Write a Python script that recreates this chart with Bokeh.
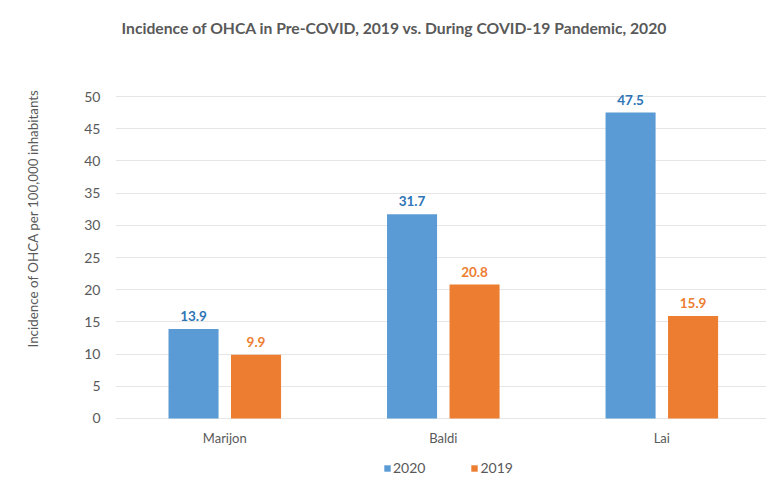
from bokeh.plotting import figure
from bokeh.models import (Range1d, FixedTicker, ColumnDataSource, Legend, LegendItem, Label, Title)
from bokeh.core.properties import value
from bokeh.embed import file_html
from bokeh.resources import INLINE

categories = ["Marijon", "Baldi", "Lai"]
series_2020 = [13.9, 31.7, 47.5]
series_2019 = [9.9, 20.8, 15.9]
y_ticks = [0, 5, 10, 15, 20, 25, 30, 35, 40, 45, 50]

FONT = "Lato"
GRAY = "#595959"
BLUE = "#5B9BD5"
ORANGE = "#ED7D31"

centers = [i + 0.5 for i in range(len(categories))]
off = 0.143
bw = 0.229

p = figure(width=766, height=482, output_backend="svg", toolbar_location=None,
           x_range=Range1d(0, 2.979), y_range=Range1d(-9.938, 64.907),
           x_axis_location=None,
           min_border_left=115, min_border_right=0, min_border_top=0, min_border_bottom=0)
p.outline_line_color = None
p.background_fill_color = "white"
p.border_fill_color = "white"

src20 = ColumnDataSource(dict(x=[c - off for c in centers], top=series_2020,
                              lab=[f"{v:.1f}" for v in series_2020]))
src19 = ColumnDataSource(dict(x=[c + off for c in centers], top=series_2019,
                              lab=[f"{v:.1f}" for v in series_2019]))
srccat = ColumnDataSource(dict(x=centers, y=[0] * len(centers), name=categories))

r20 = p.vbar(x="x", top="top", bottom=0, width=bw, source=src20, fill_color=BLUE, line_color=None)
r19 = p.vbar(x="x", top="top", bottom=0, width=bw, source=src19, fill_color=ORANGE, line_color=None)

p.text(x="x", y="top", text="lab", source=src20, text_align="center", text_baseline="bottom",
       y_offset=-8, text_font=value(FONT), text_font_style="bold", text_font_size="13.5px",
       text_color="#2E75B6")
p.text(x="x", y="top", text="lab", source=src19, text_align="center", text_baseline="bottom",
       y_offset=-8, text_font=value(FONT), text_font_style="bold", text_font_size="13.5px",
       text_color=ORANGE)

# category labels under the bars
p.text(x="x", y="y", text="name", source=srccat, text_align="center", text_baseline="middle",
       y_offset=20, text_font=value(FONT), text_font_size="13px", text_color=GRAY)

# chart title inside the frame
p.add_layout(Label(x=1.2769, y=60.71,
                   text="Incidence of OHCA in Pre-COVID, 2019 vs. During COVID-19 Pandemic, 2020",
                   text_align="center", text_baseline="middle", text_font=FONT,
                   text_font_size="15.7px", text_font_style="bold", text_color=GRAY))

p.xgrid.grid_line_color = None

p.yaxis.ticker = FixedTicker(ticks=y_ticks)
p.yaxis.major_tick_line_color = None
p.yaxis.major_tick_out = 0
p.yaxis.minor_tick_line_color = None
p.yaxis.axis_line_color = None
p.yaxis.major_label_text_font = FONT
p.yaxis.major_label_text_font_size = "14px"
p.yaxis.major_label_text_color = GRAY
p.yaxis.major_label_standoff = 15
p.yaxis.axis_label = " "
p.yaxis.axis_label_text_font_size = "1px"
p.yaxis.axis_label_standoff = 36
p.ygrid.ticker = FixedTicker(ticks=y_ticks)
p.ygrid.grid_line_color = "#e6e6e6"
p.ygrid.grid_line_width = 1

ytitle = Title(text="Incidence of OHCA per 100,000 inhabitants", align="left", offset=135,
               vertical_align="middle", standoff=0, text_font=FONT, text_font_size="13.4px",
               text_font_style="normal", text_color=GRAY)
p.add_layout(ytitle, "left")

legend = Legend(items=[LegendItem(label="2020", renderers=[r20]),
                       LegendItem(label="2019", renderers=[r19])],
                orientation="horizontal", location=(268, 6),
                label_text_font=FONT, label_text_font_size="14px", label_text_color=GRAY,
                glyph_width=8, glyph_height=8, spacing=45, label_standoff=2,
                border_line_color=None, background_fill_alpha=0, padding=0, margin=0)
p.add_layout(legend, "center")

open("out.html", "w").write(file_html(p, INLINE))
